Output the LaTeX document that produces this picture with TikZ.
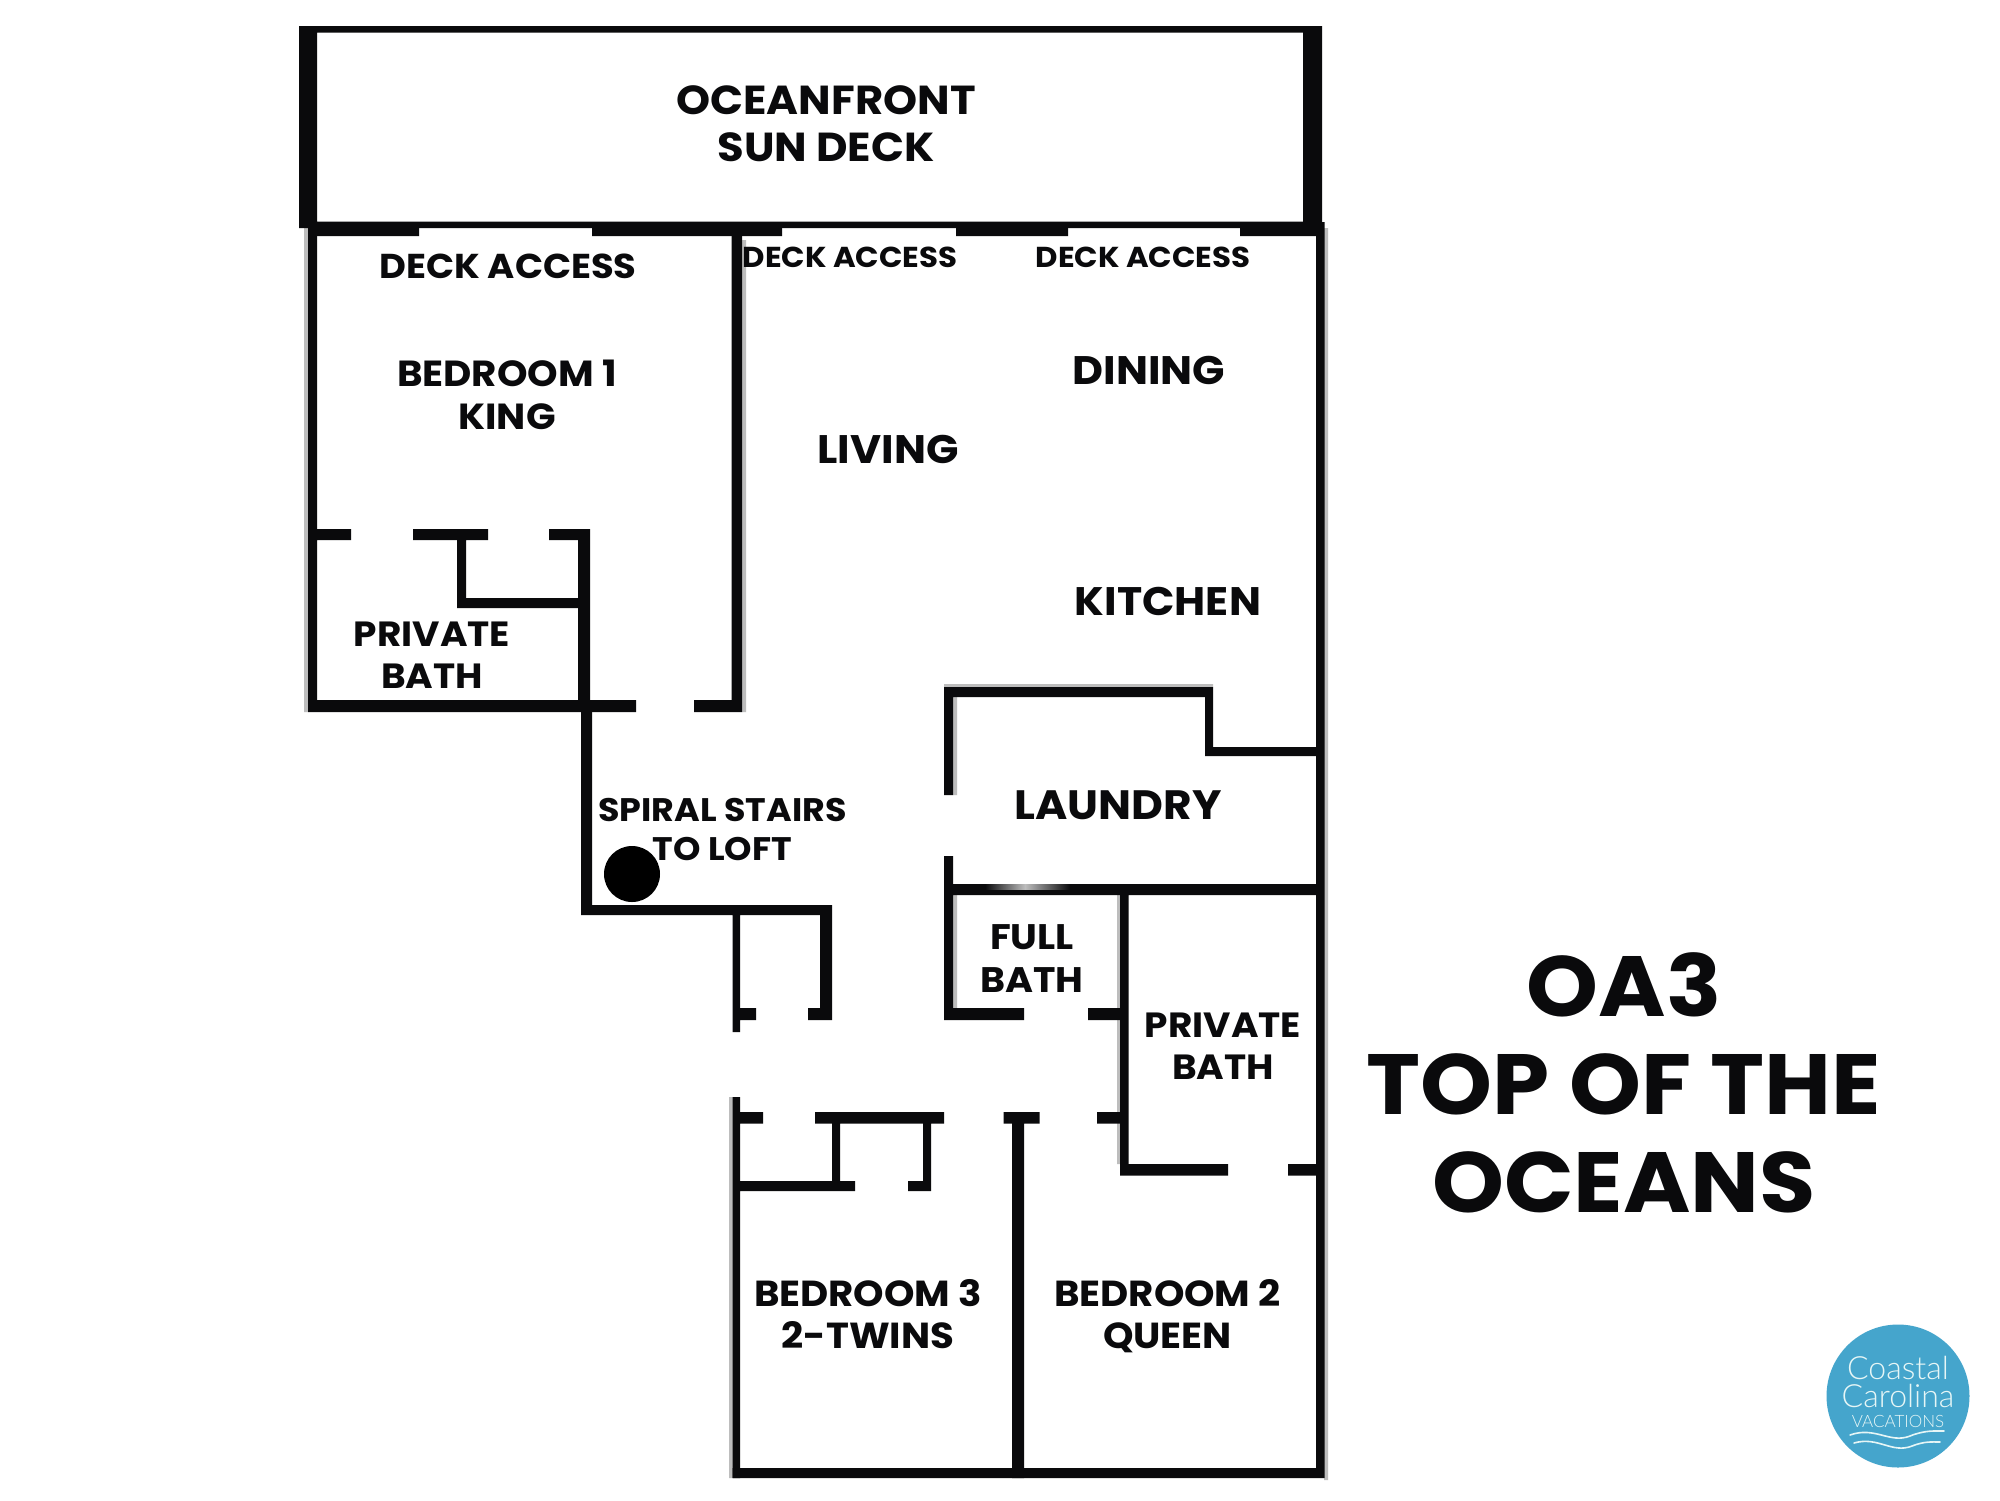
\documentclass[tikz,border=0pt]{standalone}
\usepackage{fontspec}
\setmainfont[FakeStretch=1.07]{Poppins}
\newfontfamily\logofont{Lato Light}
\definecolor{wallc}{HTML}{0A0A0C}
\definecolor{logoblue}{HTML}{45A5CC}
\definecolor{logotext}{HTML}{E6F6F6}
\definecolor{ghostc}{HTML}{BDBDBD}
\tikzset{
  wall/.style={fill=wallc},
  ghost/.style={fill=ghostc},
  room/.style 2 args={align=center,inner sep=0pt,text=wallc,font=\bfseries\fontsize{#1}{#2}\selectfont},
  logotxt/.style={inner sep=0pt,text=logotext,align=center},
  wave/.style={draw=logotext,line width=1.6pt,line cap=round}
}
\begin{document}
\begin{tikzpicture}[x=1pt,y=-1pt]
\useasboundingbox (0,0) rectangle (2000,1500);
\fill[white] (0,0) rectangle (2000,1500);
% soft edges
\fill[ghost] (304,228) rectangle (308,712) (742,240) rectangle (746,712)
  (1324,228) rectangle (1328,1480) (729,1097) rectangle (733,1478)
  (953,697) rectangle (957,795) (953,895) rectangle (957,1009)
  (944,684) rectangle (1213,687) (1117,895) rectangle (1120,1164);
% sun deck
\fill[wall] (299,26) rectangle (1322,32.5)
  (299,26) rectangle (317,228)
  (1303,26) rectangle (1322,228)
  (299,221.5) rectangle (1322,228);
% deck door stubs
\fill[wall] (317,228) rectangle (419,236)
  (592,228) rectangle (782,236)
  (956,228) rectangle (1068,236)
  (1240,228) rectangle (1322,236);
% bedroom 1 and private bath
\fill[wall] (308,228) rectangle (317,712)
  (731.5,228) rectangle (742,712)
  (317,529) rectangle (351,540)
  (413,529) rectangle (488,540)
  (549,529) rectangle (590,540)
  (457,529) rectangle (466,608)
  (457,598) rectangle (581,608)
  (578,529) rectangle (590,712)
  (308,700) rectangle (636,712)
  (694,700) rectangle (742,712);
% spiral stairs bay
\fill[wall] (581,700) rectangle (592,915)
  (581,905) rectangle (832,915)
  (820,905) rectangle (832,1020)
  (808,1008) rectangle (832,1020)
  (732.5,905) rectangle (740,1032)
  (732.5,1008) rectangle (756,1020);
% bedroom 3 closets
\fill[wall] (732.5,1097) rectangle (740,1478)
  (732.5,1112) rectangle (763,1123.5)
  (815,1112) rectangle (944,1123.5)
  (832,1112) rectangle (840,1191)
  (923,1112) rectangle (931,1191)
  (732.5,1181) rectangle (855,1191)
  (908,1181) rectangle (931,1191);
% bedroom divider
\fill[wall] (1012,1112) rectangle (1024,1478)
  (1003.5,1112) rectangle (1039.5,1123.5);
% laundry and baths
\fill[wall] (944,687) rectangle (953,795)
  (944,687) rectangle (1213,697)
  (1205,687) rectangle (1213,756)
  (1205,747) rectangle (1317,756)
  (944,856) rectangle (953,1020)
  (944,884) rectangle (1317,895)
  (944,1008) rectangle (1024,1020)
  (1088,1008) rectangle (1120,1020)
  (1120,884) rectangle (1128.5,1175.5)
  (1097,1112) rectangle (1128,1123.5)
  (1120,1164) rectangle (1228,1175.5)
  (1288,1164) rectangle (1317,1175.5);
\shade[left color=wallc,right color=ghostc] (985,884) rectangle (1025,889);
\shade[left color=ghostc,right color=wallc] (1025,884) rectangle (1070,889);
% outer right and bottom
\fill[wall] (1316,222) rectangle (1324.5,1478)
  (732.5,1468) rectangle (1324.5,1478);
% stair
\fill[black] (632,874) circle (28);
% labels
\node[room={40.5}{47}] (deck) at (826,124) {OCEANFRONT\\SUN DECK};
\node[room={34.5}{40}] (access1) at (508,266) {DECK ACCESS};
\node[room={28.8}{35}] (access2) at (850,257) {DECK ACCESS};
\node[room={28.8}{35}] (access3) at (1143,257) {DECK ACCESS};
\node[room={36.3}{43}] (bed1) at (507,395) {BEDROOM 1\\KING};
\node[room={39.8}{45}] (living) at (888,449) {LIVING};
\node[room={39.8}{45}] (dining) at (1149,370) {DINING};
\node[room={39.8}{45}] (kitchen) at (1168,601.5) {KITCHEN};
\node[room={41}{45}] (laundry) at (1118,805) {LAUNDRY};
\node[room={32.6}{39}] (spiral) at (722.5,829) {SPIRAL STAIRS\\TO LOFT};
\node[room={35}{42}] (pbath1) at (432,655) {PRIVATE\\BATH};
\node[room={35.5}{43}] (fbath) at (1032,958.5) {FULL\\BATH};
\node[room={35}{42}] (pbath2) at (1223,1046) {PRIVATE\\BATH};
\node[room={36.2}{42}] (bed3) at (868,1314) {BEDROOM 3\\2-TWINS};
\node[room={36.2}{42}] (bed2) at (1167.5,1316.5) {BEDROOM 2\\QUEEN};
\node[room={85.5}{98}] (title) at (1624,1083) {OA3\\TOP OF THE\\OCEANS};
% logo
\fill[logoblue] (1898,1396) circle (71.5);
\node[logotxt,font=\logofont\fontsize{32}{28}\selectfont] (l1) at (1898,1382) {Coastal\\Carolina};
\node[logotxt,font=\logofont\fontsize{17}{17}\selectfont] (l3) at (1898,1421) {VACATIONS};
\draw[wave] (1850,1435) .. controls (1875,1426) and (1890,1444) .. (1910,1436) .. controls (1925,1430) and (1935,1431) .. (1944,1431);
\draw[wave] (1854,1443) .. controls (1878,1436) and (1892,1454) .. (1912,1446) .. controls (1925,1441) and (1932,1442) .. (1940,1442);
\end{tikzpicture}
\end{document}
